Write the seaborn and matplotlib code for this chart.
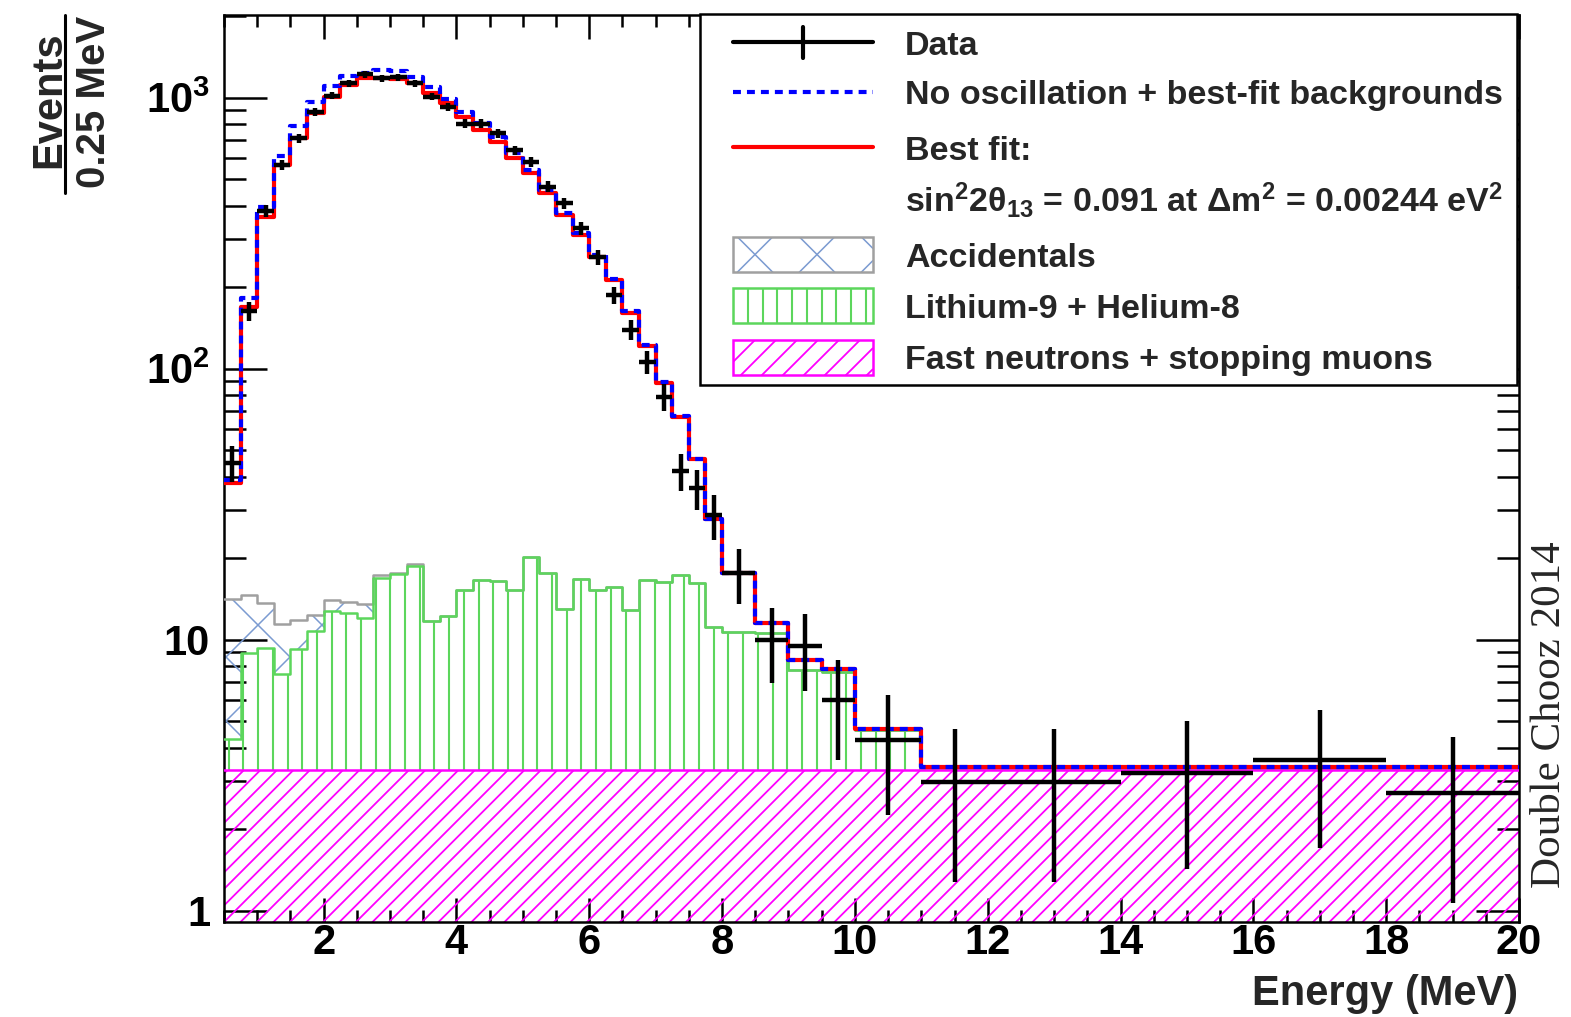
import numpy as np
import pandas as pd
import matplotlib
matplotlib.use("Agg")
import matplotlib.pyplot as plt
import seaborn as sns
from matplotlib.collections import LineCollection
from matplotlib.patches import Rectangle
from matplotlib.lines import Line2D
from matplotlib.transforms import Affine2D
from matplotlib.ticker import (FixedLocator, FixedFormatter, MultipleLocator,
                               NullFormatter, LogLocator)

# ---------------- data ----------------
bin_edges = [0.5, 0.75, 1.0, 1.25, 1.5, 1.75, 2.0, 2.25, 2.5, 2.75, 3.0, 3.25, 3.5, 3.75,
             4.0, 4.25, 4.5, 4.75, 5.0, 5.25, 5.5, 5.75, 6.0, 6.25, 6.5, 6.75, 7.0, 7.25,
             7.5, 7.75, 8.0, 8.5, 9.0, 9.5, 10.0, 11.0, 12.0, 14.0, 16.0, 18.0, 20.0]

data_events = [45, 163, 382, 565, 708, 886, 1018, 1130, 1220, 1180, 1190, 1130, 1010, 924,
               803, 803, 739, 641, 580, 470, 408, 330, 258, 187, 139, 106, 78.8, 41.8,
               36.2, 28.8, 17.6, 10.0, 9.45, 6.0, 4.25, 2.98, 2.98, 3.22, 3.6, 2.73]
data_errors = [6.7, 12.8, 19.5, 23.8, 26.6, 29.8, 31.9, 33.6, 34.9, 34.4, 34.5, 33.6, 31.8, 30.4,
               28.3, 28.3, 27.2, 25.3, 24.1, 21.7, 20.2, 18.2, 16.1, 13.7, 11.8, 10.3, 8.9, 6.5,
               6.0, 5.4, 4.1, 3.1, 3.0, 2.4, 2.0, 1.7, 1.7, 1.8, 1.9, 1.66]

no_oscillation = [39, 182, 396, 609, 787, 967, 1105, 1202, 1237, 1265, 1250, 1190, 1100, 986,
                  888, 810, 715, 623, 541, 456, 374, 316, 262, 215, 163, 122, 89, 67,
                  46.5, 28, 17.7, 11.5, 8.4, 7.8, 4.7, 3.4, 3.4, 3.4, 3.4, 3.4]
best_fit = [38, 169, 364, 565, 708, 876, 1009, 1114, 1180, 1180, 1170, 1130, 1037, 953,
            851, 760, 689, 598, 526, 444, 368, 311, 259, 212, 161, 121, 88.3, 66.5,
            46.3, 27.8, 17.7, 11.5, 8.4, 7.8, 4.7, 3.4, 3.4, 3.4, 3.4, 3.4]

fast_neutrons = [3.3] * 40
lithium9 = [1.0, 5.65, 6.05, 4.15, 5.95, 7.5, 9.5, 9.2, 8.75, 13.6, 14.2, 15.4, 8.45, 8.9,
            12.0, 13.3, 13.1, 11.9, 16.9, 14.3, 9.7, 13.45, 12.0, 12.4, 9.6, 13.3, 13.0, 14.1,
            12.85, 7.8, 7.4, 7.25, 4.45, 4.3, 1.35, 0.06, 0.06, 0.05, 0.05, 0.05]
accidentals = [9.8, 5.65, 4.35, 4.0, 2.55, 1.5, 1.2, 1.3, 1.45, 0.5, 0.2, 0.3,
               0, 0, 0, 0, 0, 0, 0, 0, 0, 0, 0, 0, 0, 0, 0, 0,
               0, 0, 0, 0, 0, 0, 0, 0, 0, 0, 0, 0]

x_tick_values = [2, 4, 6, 8, 10, 12, 14, 16, 18, 20]
x_tick_labels = ["2", "4", "6", "8", "10", "12", "14", "16", "18", "20"]
y_tick_values = [1, 10, 100, 1000]
y_tick_labels = ["1", "10", r"$10^{2}$", r"$10^{3}$"]

legend_labels = ["Data",
                 "No oscillation + best-fit backgrounds",
                 "Best fit:",
                 "sin$^{2}$2θ$_{13}$ = 0.091 at Δm$^{2}$ = 0.00244 eV$^{2}$",
                 "Accidentals",
                 "Lithium-9 + Helium-8",
                 "Fast neutrons + stopping muons"]

# ---------------- style ----------------
sns.set_theme(style="ticks")
plt.rcParams.update({
    "font.family": ["Liberation Sans", "DejaVu Sans"],
    "font.weight": "bold",
    "mathtext.fontset": "custom",
    "mathtext.rm": "Liberation Sans:bold",
    "mathtext.it": "Liberation Sans:bold",
    "mathtext.bf": "Liberation Sans:bold",
    "mathtext.sf": "Liberation Sans:bold",
    "mathtext.default": "rm",
    "axes.linewidth": 1.8,
    "axes.edgecolor": "black",
    "axes.facecolor": "white",
    "figure.facecolor": "white",
    "xtick.color": "black",
    "ytick.color": "black",
})

RED, BLUE = "#ff0000", "#0000ff"
GREEN = "#5cd65c"
GRAY = "#a0a0a0"
XBLUE = "#7b9bd1"
MAGENTA = "#ff00ff"
DASH = (0, (1.9, 1.45))

W, H = 1571, 1017
fig = plt.figure(figsize=(W / 100, H / 100), dpi=100)
AX_L, AX_R, AX_T, AX_B = 224, 1519, 15, 922
AXW, AXH = AX_R - AX_L, AX_B - AX_T
ax = fig.add_axes([AX_L / W, 1 - AX_B / H, AXW / W, AXH / H])
ax.set_yscale("log")
Y_LO, Y_HI = 0.9085, 2020

edges = np.array(bin_edges)
centers = 0.5 * (edges[:-1] + edges[1:])
half_w = 0.5 * (edges[1:] - edges[:-1])
fn_top = np.array(fast_neutrons)
li_top = fn_top + np.array(lithium9)
tot_top = li_top + np.array(accidentals)


def ext(v):
    v = list(v)
    return v + [v[-1]]


# transforms in pixel units
ax_px = Affine2D().scale(1 / AXW, 1 / AXH) + ax.transAxes
fig_px = Affine2D().scale(1 / W, -1 / H).translate(0, 1) + fig.transFigure


def hatch_segments(kind, x0, x1, y0, y1, spacing, anchor, y_up=True):
    segs = []
    if kind == "|":
        x = x0 + (anchor[0] - x0) % spacing
        while x <= x1:
            segs.append([(x, y0), (x, y1)])
            x += spacing
        return segs
    dirs = []
    if kind in ("/", "x"):
        dirs.append(1)
    if kind in ("\\", "x"):
        dirs.append(-1)
    for s in dirs:
        se = s if y_up else -s
        cs = [y0 - se * x0, y0 - se * x1, y1 - se * x0, y1 - se * x1]
        cmin, cmax = min(cs), max(cs)
        c_anchor = anchor[1] - se * anchor[0]
        c = cmin + (c_anchor - cmin) % spacing
        while c <= cmax:
            segs.append([(x0, se * x0 + c), (x1, se * x1 + c)])
            c += spacing
    return segs


def band(lower, upper, kind, spacing, anchor, color, lw, z):
    coll = ax.fill_between(edges, ext(lower), ext(upper), step="post",
                           facecolor="none", edgecolor="none", linewidth=0)
    segs = hatch_segments(kind, 0, AXW, 0, AXH, spacing, anchor)
    lc = LineCollection(segs, colors=color, linewidths=lw, transform=ax_px, zorder=z)
    ax.add_collection(lc, autolim=False)
    lc.set_clip_path(coll.get_paths()[0], coll.get_transform())


band(np.full(len(fn_top), Y_LO), fn_top, "/", 16.5, (0, 0), MAGENTA, 1.3, 1)
band(fn_top, li_top, "|", 14.7, (4.7, 0), GREEN, 1.5, 1)
band(li_top, tot_top, "x", 64, (34, 297), XBLUE, 1.1, 1)


def step_line(values, color, lw, z, **kw):
    sns.lineplot(x=edges, y=ext(values), drawstyle="steps-post", color=color,
                 linewidth=lw, zorder=z, ax=ax, estimator=None, sort=False,
                 errorbar=None, **kw)


step_line(tot_top, GRAY, 1.8, 3)
step_line(li_top, GREEN, 1.8, 3.2)
step_line(fn_top, MAGENTA, 1.8, 3.4)
step_line(best_fit, RED, 3, 5)
step_line(no_oscillation, BLUE, 3, 6, linestyle=DASH)

ax.errorbar(centers, data_events, yerr=data_errors, xerr=half_w, fmt="none",
            ecolor="black", elinewidth=3.2, capsize=0, zorder=8)

# ---------------- axes ----------------
ax.set_xlim(0.5, 20)
ax.set_ylim(Y_LO, Y_HI)
ax.set_xlabel("")
ax.set_ylabel("")
ax.xaxis.set_major_locator(FixedLocator(x_tick_values))
ax.xaxis.set_major_formatter(FixedFormatter(x_tick_labels))
ax.xaxis.set_minor_locator(MultipleLocator(0.5))
ax.yaxis.set_major_locator(FixedLocator(y_tick_values))
ax.yaxis.set_major_formatter(FixedFormatter(y_tick_labels))
ax.yaxis.set_minor_locator(LogLocator(base=10, subs=np.arange(2, 10)))
ax.yaxis.set_minor_formatter(NullFormatter())
ax.tick_params(axis="both", which="both", direction="in", top=True, right=True,
               width=1.8, colors="black", labelsize=30)
ax.tick_params(axis="x", which="major", length=17, pad=1)
ax.tick_params(axis="x", which="minor", length=8.5)
ax.tick_params(axis="y", which="major", length=31, pad=10)
ax.tick_params(axis="y", which="minor", length=16)
for sp in ax.spines.values():
    sp.set_linewidth(1.8)
    sp.set_color("black")
    sp.set_visible(True)

# axis titles
fig.text(1518 / W, 1 - 1005 / H, "Energy (MeV)", ha="right", va="baseline",
         fontsize=30, fontweight="bold")
fig.text(60 / W, 1 - 100 / H, "Events", rotation=90, rotation_mode="anchor",
         ha="center", va="baseline", fontsize=30, fontweight="bold")
fig.text(105 / W, 1 - 102 / H, "0.25 MeV", rotation=90, rotation_mode="anchor",
         ha="center", va="baseline", fontsize=29, fontweight="bold")
fig.add_artist(Line2D([65, 65], [15, 193], transform=fig_px, color="black", lw=2.2))

fig.text(1560 / W, 1 - 715 / H, "Double Chooz 2014", rotation=90, rotation_mode="anchor",
         ha="center", va="baseline", fontsize=31, fontweight="normal",
         family=["Liberation Serif", "DejaVu Serif"])

# ---------------- legend ----------------
fig.add_artist(Rectangle((700, 14), 817, 371, transform=fig_px, facecolor="white",
                         edgecolor="black", linewidth=1.8, zorder=10))
fig.add_artist(Line2D([733, 873], [42, 42], transform=fig_px, color="black", lw=3, zorder=11))
fig.add_artist(Line2D([803, 803], [27, 58], transform=fig_px, color="black", lw=3, zorder=11))
fig.add_artist(Line2D([733, 873], [147, 147], transform=fig_px, color=RED, lw=3, zorder=11))
fig.add_artist(Line2D([733, 873], [92, 92], transform=fig_px, color=BLUE, lw=3,
                      linestyle=DASH, zorder=11.5))


def legend_box(y0, edge, kind, spacing, anchor, hcolor, hlw):
    rect = Rectangle((733, y0), 140, 35, transform=fig_px, facecolor="none",
                     edgecolor=edge, linewidth=1.8, zorder=12)
    fig.add_artist(rect)
    segs = hatch_segments(kind, 733, 873, y0, y0 + 35, spacing, anchor, y_up=False)
    lc = LineCollection(segs, colors=hcolor, linewidths=hlw, transform=fig_px, zorder=11)
    fig.add_artist(lc)
    lc.set_clip_path(rect)


legend_box(237, GRAY, "x", 62, (755, 254.5), XBLUE, 1.1)
legend_box(288, GREEN, "|", 14.7, (748, 0), GREEN, 1.5)
legend_box(340, MAGENTA, "/", 21, (740, 376), MAGENTA, 1.3)

baselines = [55, 104, 160, 212, 267, 318, 369]
for lab, yb in zip(legend_labels, baselines):
    fig.text(905 / W, 1 - yb / H, lab, ha="left", va="baseline", fontsize=24.5,
             fontweight="bold", zorder=13)

fig.savefig("out.png", dpi=100)
